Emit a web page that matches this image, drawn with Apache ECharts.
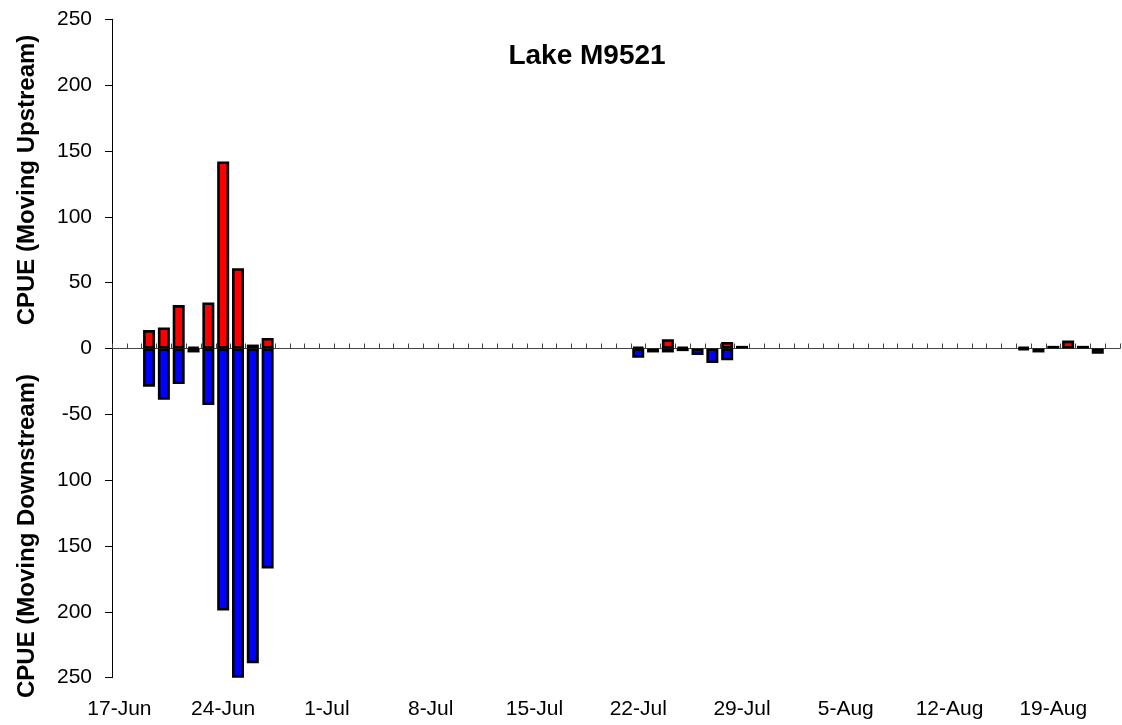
<!DOCTYPE html>
<html>
<head>
<meta charset="utf-8">
<script src="https://cdn.jsdelivr.net/npm/echarts@6/dist/echarts.min.js"></script>
<style>
html,body{margin:0;padding:0;background:#fff;}
#chart{width:1122px;height:725px;}
</style>
</head>
<body>
<div id="chart"></div>
<script>
// Daily categories (17-Jun .. 23-Aug)
const categories = [
 '17-Jun','18-Jun','19-Jun','20-Jun','21-Jun','22-Jun','23-Jun','24-Jun','25-Jun','26-Jun','27-Jun','28-Jun','29-Jun','30-Jun',
 '1-Jul','2-Jul','3-Jul','4-Jul','5-Jul','6-Jul','7-Jul','8-Jul','9-Jul','10-Jul','11-Jul','12-Jul','13-Jul','14-Jul',
 '15-Jul','16-Jul','17-Jul','18-Jul','19-Jul','20-Jul','21-Jul','22-Jul','23-Jul','24-Jul','25-Jul','26-Jul','27-Jul','28-Jul',
 '29-Jul','30-Jul','31-Jul','1-Aug','2-Aug','3-Aug','4-Aug','5-Aug','6-Aug','7-Aug','8-Aug','9-Aug','10-Aug','11-Aug',
 '12-Aug','13-Aug','14-Aug','15-Aug','16-Aug','17-Aug','18-Aug','19-Aug','20-Aug','21-Aug','22-Aug','23-Aug'
];

// CPUE moving upstream (positive)
const upDates  = ['19-Jun','20-Jun','21-Jun','22-Jun','23-Jun','24-Jun','25-Jun','26-Jun','27-Jun','22-Jul','24-Jul','25-Jul','28-Jul','29-Jul','17-Aug','19-Aug','20-Aug','21-Aug'];
const upValues = [14, 16, 33, 1, 35, 142, 61, 3, 8, 1, 7, 1, 5, 2, 1, 2, 6, 2];

// CPUE moving downstream (plotted negative)
const downDates  = ['19-Jun','20-Jun','21-Jun','22-Jun','23-Jun','24-Jun','25-Jun','26-Jun','27-Jun','22-Jul','23-Jul','24-Jul','25-Jul','26-Jul','27-Jul','28-Jul','17-Aug','18-Aug','22-Aug'];
const downValues = [-29, -39, -27, -3, -43, -199, -250, -239, -167, -7, -3, -3, -2, -5, -11, -9, -1, -3, -4];

// Y tick labels as printed on the chart
const yTickValues = [250, 200, 150, 100, 50, 0, -50, -100, -150, -200, -250];
const yTickLabels = ['250', '200', '150', '100', '50', '0', '-50', '100', '150', '200', '250'];

const titleText = 'Lake M9521';
const yTitleUp = 'CPUE (Moving Upstream)';
const yTitleDown = 'CPUE (Moving Downstream)';

function toSeries(dates, values) {
  const arr = categories.map(() => null);
  dates.forEach((d, i) => { arr[categories.indexOf(d)] = values[i]; });
  return arr;
}

const chart = echarts.init(document.getElementById('chart'));
const FONT = '"Liberation Sans", Arial, sans-serif';

chart.setOption({
  animation: false,
  backgroundColor: '#fff',
  title: {
    text: titleText,
    left: 582, top: 37, textAlign: 'center',
    textStyle: { fontFamily: FONT, fontWeight: 'bold', fontSize: 28, color: '#000' }
  },
  grid: { left: 112, right: 2, top: 19.3, bottom: 47.3, containLabel: false },
  xAxis: [
    {
      type: 'category', data: categories, position: 'bottom',
      axisLine: { onZero: true, lineStyle: { color: '#444', width: 1 } },
      axisTick: { show: true, interval: 0, inside: true, length: 5, lineStyle: { color: '#444' } },
      axisLabel: { show: false },
      splitLine: { show: false }
    },
    {
      type: 'category', data: categories, position: 'bottom',
      axisLine: { show: false, onZero: false },
      axisTick: { show: false },
      axisLabel: { show: true, interval: 6, margin: 21, fontFamily: FONT, fontSize: 21, color: '#000' },
      splitLine: { show: false }
    }
  ],
  yAxis: {
    type: 'value', min: -250, max: 250, interval: 50,
    axisLine: { show: true, lineStyle: { color: '#000', width: 1 } },
    axisTick: { show: true, length: 7, lineStyle: { color: '#000' } },
    axisLabel: {
      margin: 20, fontFamily: FONT, fontSize: 21, color: '#000',
      formatter: function (v) { const i = yTickValues.indexOf(v); return i >= 0 ? yTickLabels[i] : String(v); }
    },
    splitLine: { show: false }
  },
  graphic: [
    { type: 'text', x: 27, y: 180, rotation: Math.PI / 2,
      style: { text: yTitleUp, fontFamily: FONT, fontWeight: 'bold', fontSize: 24, fill: '#000', align: 'center', verticalAlign: 'middle' } },
    { type: 'text', x: 27, y: 536, rotation: Math.PI / 2,
      style: { text: yTitleDown, fontFamily: FONT, fontWeight: 'bold', fontSize: 24, fill: '#000', align: 'center', verticalAlign: 'middle' } }
  ],
  series: [
    {
      name: 'Upstream', type: 'bar', xAxisIndex: 0, data: toSeries(upDates, upValues),
      barWidth: 12, barGap: '-100%',
      itemStyle: { color: '#ff0000', borderColor: '#000', borderWidth: 2.6 }
    },
    {
      name: 'Downstream', type: 'bar', xAxisIndex: 0, data: toSeries(downDates, downValues),
      barWidth: 12, barGap: '-100%',
      itemStyle: { color: '#0000ff', borderColor: '#000', borderWidth: 2.6 }
    }
  ]
});
</script>
</body>
</html>
